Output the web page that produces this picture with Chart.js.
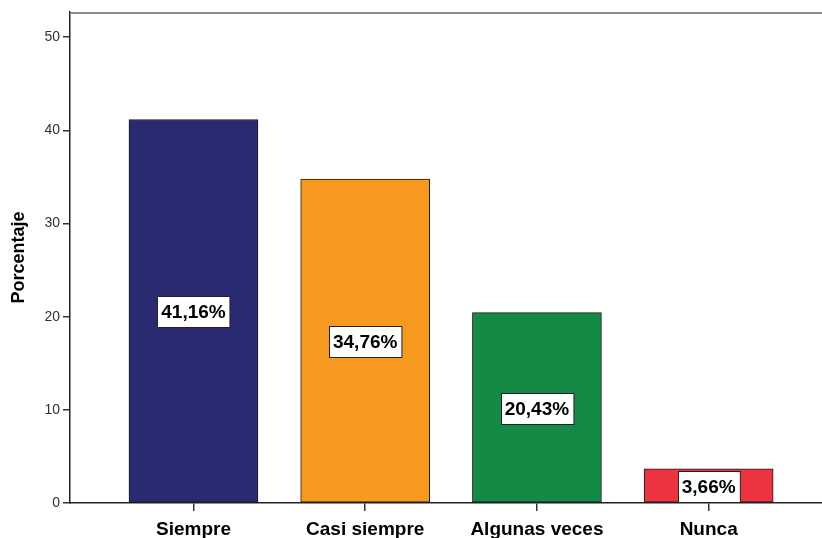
<!DOCTYPE html>
<html>
<head>
<meta charset="utf-8">
<script src="https://cdn.jsdelivr.net/npm/chart.js@4/dist/chart.umd.min.js"></script>
<style>
  html, body { margin: 0; padding: 0; background: #fff; overflow: hidden; }
  #wrap { width: 822px; height: 538px; }
</style>
</head>
<body>
<div id="wrap"><canvas id="barChart"></canvas></div>
<script>
// values
const categories = ['Siempre', 'Casi siempre', 'Algunas veces', 'Nunca'];
const percentages = [41.16, 34.76, 20.43, 3.66];
const barColors = ['#292a72', '#f7991f', '#138a45', '#ee3340'];
const yTicks = [0, 10, 20, 30, 40, 50];

const font = 'Arial, "Liberation Sans", sans-serif';

// white boxes with the percentage in the middle of each bar
const valueBoxes = {
  id: 'valueBoxes',
  afterDatasetsDraw(chart) {
    const ctx = chart.ctx;
    const meta = chart.getDatasetMeta(0);
    ctx.save();
    ctx.font = 'bold 19px ' + font;
    ctx.textAlign = 'center';
    ctx.textBaseline = 'middle';
    meta.data.forEach((bar, i) => {
      const txt = percentages[i].toFixed(2).replace('.', ',') + '%';
      const w = ctx.measureText(txt).width + 8;
      const h = 31;
      const cy = (bar.y + bar.base) / 2 + 1;
      const x0 = Math.round(bar.x - w / 2) + 0.5;
      const y0 = Math.round(cy - h / 2) + 0.5;
      ctx.fillStyle = '#fff';
      ctx.fillRect(x0, y0, w, h);
      ctx.strokeStyle = '#222';
      ctx.lineWidth = 1;
      ctx.strokeRect(x0, y0, w, h);
      ctx.fillStyle = '#000';
      ctx.fillText(txt, bar.x, cy + 1);
    });
    ctx.restore();
  }
};

// grey frame line on top of the plot
const frameTop = {
  id: 'frameTop',
  afterDraw(chart) {
    const { ctx, chartArea } = chart;
    ctx.save();
    ctx.strokeStyle = '#8a8a8a';
    ctx.lineWidth = 2;
    ctx.beginPath();
    ctx.moveTo(chartArea.left, chartArea.top + 1);
    ctx.lineTo(chart.width, chartArea.top + 1);
    ctx.stroke();
    ctx.restore();
  }
};

const ctx = document.getElementById('barChart').getContext('2d');
new Chart(ctx, {
  type: 'bar',
  data: {
    datasets: [{
      label: 'Porcentaje',
      data: percentages.map((v, i) => ({ x: i, y: v })),
      backgroundColor: barColors,
      borderColor: '#1a1a1a',
      borderWidth: 1,
      barThickness: 129,
      borderSkipped: false
    }]
  },
  options: {
    responsive: true,
    maintainAspectRatio: false,
    animation: false,
    layout: { padding: { top: 12, left: 0, right: 0, bottom: 0 } },
    plugins: {
      legend: { display: false },
      tooltip: { enabled: false }
    },
    scales: {
      x: {
        type: 'linear',
        offset: false,
        min: -0.719,
        max: 3.66,
        afterBuildTicks: (s) => { s.ticks = categories.map((c, i) => ({ value: i })); },
        ticks: {
          callback: (v) => categories[v],
          color: '#000',
          font: { family: font, size: 19, weight: 'bold' },
          padding: 7,
          maxRotation: 0,
          autoSkip: false
        },
        grid: { offset: false, drawOnChartArea: false, drawTicks: true, tickLength: 8, color: '#333', lineWidth: 1.5 },
        border: { color: '#222', width: 1.5 },
        afterFit: (s) => { s.height = 35; }
      },
      y: {
        min: 0,
        max: 52.7,
        afterBuildTicks: (s) => { s.ticks = yTicks.map(v => ({ value: v })); },
        ticks: {
          color: '#333',
          font: { family: font, size: 14 },
          padding: 3
        },
        grid: { drawOnChartArea: false, drawTicks: true, tickLength: 7, color: '#333', lineWidth: 1.5 },
        border: { color: '#222', width: 1.5 },
        title: {
          display: true,
          text: 'Porcentaje',
          color: '#000',
          font: { family: font, size: 18, weight: 'bold' },
          padding: { top: 8, bottom: 0 }
        },
        afterFit: (s) => { s.width = 70; }
      }
    }
  },
  plugins: [valueBoxes, frameTop]
});
</script>
</body>
</html>
